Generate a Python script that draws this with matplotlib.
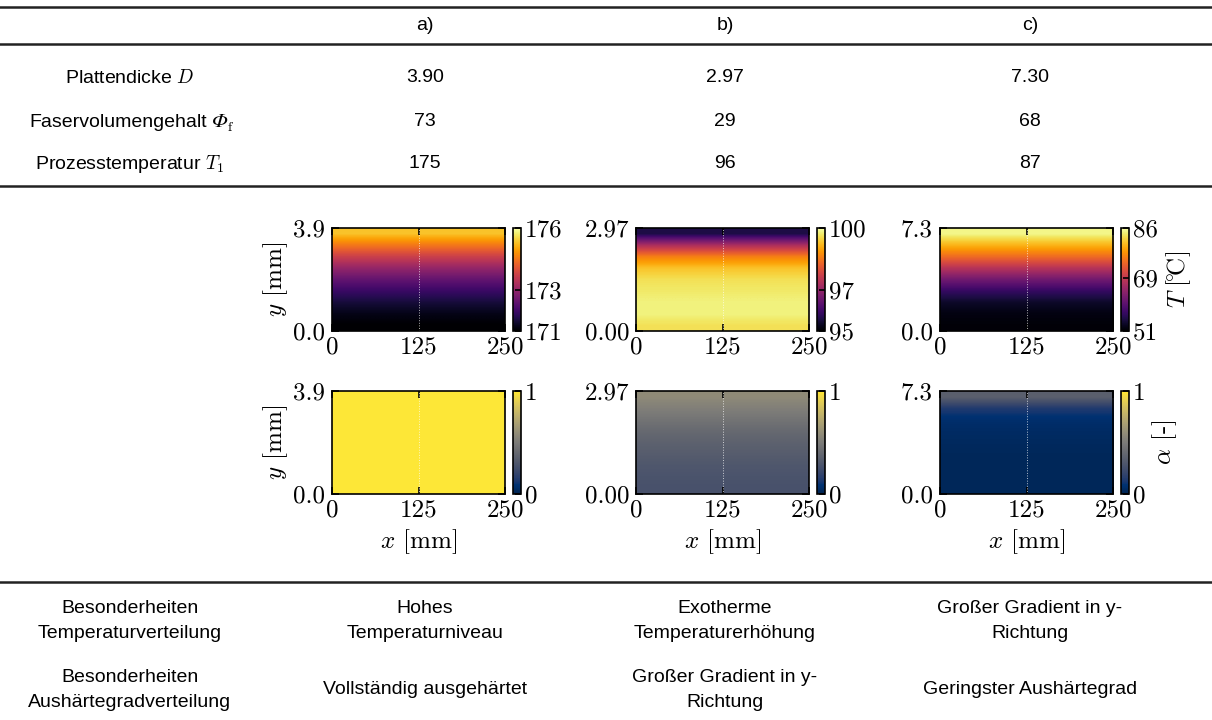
import numpy as np
import matplotlib
matplotlib.use("Agg")
import matplotlib.pyplot as plt
from matplotlib.lines import Line2D

plt.rcParams['font.family'] = 'serif'
plt.rcParams['font.serif'] = ['cmr10', 'DejaVu Serif']
plt.rcParams['mathtext.fontset'] = 'cm'
plt.rcParams['axes.unicode_minus'] = False

### Table contents
cases = ['a)', 'b)', 'c)']
row_labels = [r'Plattendicke $D$', 'Faservolumengehalt', r'Prozesstemperatur $T_1$']
thickness = ['3.90', '2.97', '7.30']
fibre_vol = ['73', '29', '68']
process_temp = ['175', '96', '87']

notes_label = ['Besonderheiten\nTemperaturverteilung', 'Besonderheiten\nAushärtegradverteilung']
notes_temp = ['Hohes\nTemperaturniveau', 'Exotherme\nTemperaturerhöhung', 'Großer Gradient in y-\nRichtung']
notes_cure = ['Vollständig ausgehärtet', 'Großer Gradient in y-\nRichtung', 'Geringster Aushärtegrad']

### Field data (profiles over thickness, bottom -> top)
plate_len = 250
plate_D = [3.9, 2.97, 7.3]
ytick_labels = [['0.0', '3.9'], ['0.00', '2.97'], ['0.0', '7.3']]

temp_a = [171.0, 171.2, 171.5, 171.9, 172.4, 173.0, 173.7, 174.5, 175.3]
temp_b = [99.6, 99.8, 99.8, 99.7, 99.6, 99.3, 98.6, 97.3, 95.6]
temp_c = [51.5, 52.0, 53.5, 57.0, 62.0, 68.0, 74.5, 80.0, 85.0]
temp_lims = [(171, 176), (95, 100), (51, 86)]
temp_ticks = [[171, 173, 176], [95, 97, 100], [51, 69, 86]]

cure_a = [1.0, 1.0, 1.0, 1.0, 1.0, 1.0, 1.0, 1.0, 1.0]
cure_b = [0.27, 0.28, 0.30, 0.33, 0.36, 0.40, 0.46, 0.52, 0.58]
cure_c = [0.03, 0.03, 0.03, 0.03, 0.04, 0.05, 0.07, 0.14, 0.35]

temps = [temp_a, temp_b, temp_c]
cures = [cure_a, cure_b, cure_c]

W, H = 1212, 720
fig = plt.figure(figsize=(W / 100, H / 100), dpi=100)
tab = fig.add_axes([0, 0, 1, 1])
tab.axis('off')


def px_rect(left, top, right, bottom):
    return [left / W, 1 - bottom / H, (right - left) / W, (bottom - top) / H]


def hline(y, lw=1.8):
    fig.add_artist(Line2D([0, 1], [1 - y / H, 1 - y / H], color='#222222', lw=lw,
                          transform=fig.transFigure))


sans = 'Liberation Sans'
tfs = 14
col_x = [425, 725, 1030]
lab_x = 130

### Table header and rows
hline(7)
hline(44)
hline(186)
hline(582)
for i, c in enumerate(cases):
    fig.text(col_x[i] / W, 1 - 26 / H, c, ha='center', va='center', family=sans, fontsize=tfs)
row_y = [78, 121, 164]
for j, (lab, vals) in enumerate(zip(row_labels, [thickness, fibre_vol, process_temp])):
    if j == 1:
        # italic Phi with upright subscript f, built from pieces
        yb = 1 - (row_y[j] + 6) / H
        t1 = tab.text(29 / W, yb, lab, ha='left', va='baseline', family=sans,
                      fontsize=tfs, transform=fig.transFigure)
        t2 = tab.annotate('Φ', xy=(1, yb), xycoords=(t1, 'figure fraction'),
                          xytext=(3.5, 0), textcoords='offset points',
                          ha='left', va='baseline', family='STIXGeneral',
                          style='italic', fontsize=tfs + 1)
        tab.annotate('f', xy=(1, yb), xycoords=(t2, 'figure fraction'),
                     xytext=(0.5, -3), textcoords='offset points',
                     ha='left', va='baseline', family='cmr10', fontsize=tfs * 0.72)
    else:
        fig.text(lab_x / W, 1 - row_y[j] / H, lab, ha='center', va='center', family=sans,
                 fontsize=tfs)
    for i, v in enumerate(vals):
        fig.text(col_x[i] / W, 1 - row_y[j] / H, v, ha='center', va='center', family=sans, fontsize=tfs)

### Bottom notes
note_y = [621, 690]
for j, (lab, vals) in enumerate(zip(notes_label, [notes_temp, notes_cure])):
    fig.text(lab_x / W, 1 - note_y[j] / H, lab, ha='center', va='center', family=sans,
             fontsize=tfs, linespacing=1.65)
    for i, v in enumerate(vals):
        fig.text(col_x[i] / W, 1 - note_y[j] / H, v, ha='center', va='center', family=sans,
                 fontsize=tfs, linespacing=1.65)

### Heatmaps
ax_left = [332, 636, 940]
ax_w = 173
row_top = [228, 391]
ax_h = 103
pfs = 18

for r in range(2):
    for i in range(3):
        l = ax_left[i]
        t = row_top[r]
        ax = fig.add_axes(px_rect(l, t, l + ax_w, t + ax_h))
        cax = fig.add_axes(px_rect(l + ax_w + 8, t, l + ax_w + 16, t + ax_h))
        D = plate_D[i]
        if r == 0:
            prof = np.array(temps[i])[:, None]
            cmap = 'inferno'
            vmin, vmax = temp_lims[i]
            cticks = temp_ticks[i]
        else:
            prof = np.array(cures[i])[:, None]
            cmap = 'cividis'
            vmin, vmax = 0, 1
            cticks = [0, 1]
        im = ax.imshow(prof, origin='lower', aspect='auto', extent=[0, plate_len, 0, D],
                       cmap=cmap, vmin=vmin, vmax=vmax, interpolation='bilinear')
        ax.axvline(125, color='white', ls=':', lw=0.7, alpha=0.7)
        ax.set_xlim(0, plate_len)
        ax.set_ylim(0, D)
        ax.set_xticks([0, 125, 250])
        ax.set_xticklabels(['0', '125', '250'])
        ax.set_yticks([0, D])
        ax.set_yticklabels(ytick_labels[i])
        ax.tick_params(direction='in', top=True, right=True, length=5, width=1.2,
                       labelsize=pfs)
        ax.tick_params(axis='x', pad=4)
        ax.tick_params(axis='y', pad=5)
        for s in ax.spines.values():
            s.set_linewidth(1.2)
        if i == 0:
            ax.set_ylabel(r'$y$ [mm]', fontsize=pfs, labelpad=2)
        if r == 1:
            ax.set_xlabel(r'$x$ [mm]', fontsize=pfs, labelpad=4)

        cb = fig.colorbar(im, cax=cax, ticks=cticks)
        cb.ax.set_yticklabels([str(v) for v in cticks])
        cb.ax.tick_params(direction='in', length=4, width=1.2, labelsize=pfs, pad=3)
        cb.outline.set_linewidth(1.2)
        if i == 2:
            if r == 0:
                cb.set_label(r'$T\ [\!{}^{\circ}\!\mathrm{C}]$', fontsize=pfs, labelpad=4)
            else:
                cb.set_label(r'$\alpha$ [-]', fontsize=pfs, labelpad=3)

plt.savefig('out.png', dpi=100)
